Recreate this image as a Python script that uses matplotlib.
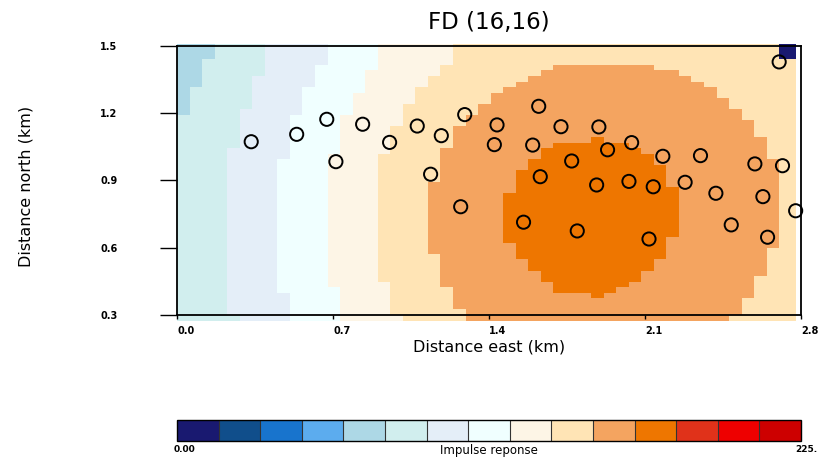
import numpy as np
import matplotlib
matplotlib.use("Agg")
from matplotlib import pyplot as plt
from matplotlib.colors import ListedColormap, BoundaryNorm

# colour table, 15 bands of 15 units (0 .. 225)
band_colors = ["#191970", "#104E8B", "#1874CD", "#5CACEE", "#ADD8E6",
               "#D1EEEE", "#E4EEF8", "#F0FFFF", "#FDF5E6", "#FFE4B5",
               "#F4A460", "#EE7600", "#E0321A", "#EE0000", "#CD0000"]
levels = np.arange(0, 226, 15)
cbar_labels = ["0.00", "225."]

# raster: 50 rows (top->bottom) x 50 columns
nrow, ncol = 50, 50
# (first row, last row, last col) of band 4
band4_end = [(0, 2, 2), (3, 7, 1), (8, 12, 0)]
# (first row, last row, first col) where band k begins
band6_start = [(0, 5, 7), (6, 11, 6), (12, 18, 5), (19, 48, 4), (49, 49, 5)]
band7_start = [(0, 3, 12), (4, 7, 11), (8, 12, 10), (13, 20, 9), (21, 44, 8), (45, 49, 9)]
band8_start = [(0, 4, 16), (5, 8, 15), (9, 12, 14), (13, 19, 13), (20, 43, 12), (44, 49, 13)]
band9_start = [(0, 3, 22), (4, 5, 21), (6, 7, 20), (8, 10, 19), (11, 14, 18),
               (15, 19, 17), (20, 42, 16), (43, 48, 17), (49, 49, 18)]
# (first row, last row, first col, last col)
band10_span = [(4, 4, 30, 37), (5, 5, 29, 39), (6, 6, 28, 40), (7, 7, 27, 41),
               (8, 8, 26, 42), (9, 9, 25, 42), (10, 10, 25, 43), (11, 11, 24, 43),
               (12, 12, 24, 44), (13, 13, 23, 44), (14, 14, 23, 45), (15, 16, 22, 45),
               (17, 18, 22, 46), (19, 20, 21, 46), (21, 24, 21, 47), (25, 36, 20, 47),
               (37, 37, 20, 46), (38, 41, 21, 46), (42, 43, 21, 45), (44, 45, 22, 45),
               (46, 47, 22, 44), (48, 48, 23, 44), (49, 49, 23, 43)]
band11_span = [(17, 17, 33, 33), (18, 18, 30, 35), (19, 19, 29, 36), (20, 20, 29, 37),
               (21, 21, 28, 37), (22, 22, 28, 38), (23, 25, 27, 38), (26, 26, 27, 39),
               (27, 34, 26, 39), (35, 35, 26, 38), (36, 38, 27, 38), (39, 40, 28, 37),
               (41, 42, 29, 36), (43, 43, 30, 35), (44, 44, 30, 34), (45, 45, 33, 33)]
band0_span = [(0, 2, 48, 49)]

# stations (km)
sta_x = [0.333, 0.537, 0.672, 0.713, 0.833, 0.954, 1.078, 1.186, 1.138, 1.291,
         1.273, 1.436, 1.424, 1.623, 1.723, 1.596, 1.771, 1.630, 1.555, 1.796,
         1.893, 1.883, 2.040, 1.932, 2.180, 2.349, 2.028, 2.137, 2.280, 2.418,
         2.593, 2.717, 2.629, 2.776, 2.487, 2.650, 2.118, 2.702]
sta_y = [1.073, 1.106, 1.173, 0.984, 1.151, 1.070, 1.143, 1.100, 0.928, 1.194,
         0.783, 1.148, 1.060, 1.231, 1.140, 1.058, 0.987, 0.917, 0.714, 0.675,
         1.139, 0.880, 1.069, 1.037, 1.008, 1.011, 0.896, 0.872, 0.892, 0.843,
         0.974, 0.966, 0.828, 0.765, 0.702, 0.647, 0.639, 1.429]

band = np.full((nrow, ncol), 5)
for r0, r1, c in band4_end:
    band[r0:r1 + 1, :c + 1] = 4
for k, table in [(6, band6_start), (7, band7_start), (8, band8_start), (9, band9_start)]:
    for r0, r1, c in table:
        band[r0:r1 + 1, c:] = k
for k, table in [(10, band10_span), (11, band11_span), (0, band0_span)]:
    for r0, r1, c0, c1 in table:
        band[r0:r1 + 1, c0:c1 + 1] = k
value = band * 15 + 7.5

# cell edges (km)
x_edges = np.append(np.arange(ncol) * 0.0563, 2.777)
y_edges = 1.5 - (42.6 + 5.56 * np.arange(nrow + 1) - 46) / 224.2
y_edges[0] = 1.509

cmap = ListedColormap(band_colors)
norm = BoundaryNorm(levels, cmap.N)

fig = plt.figure(figsize=(8.19, 4.57), dpi=100)
ax = fig.add_axes([177 / 819, 1 - 315 / 457, 624 / 819, 269 / 457])
mesh = ax.pcolormesh(x_edges, y_edges, value, cmap=cmap, norm=norm, zorder=1)
mesh.set_clip_on(False)
ax.scatter(sta_x, sta_y, s=90, facecolors="none", edgecolors="black",
           linewidths=1.4, zorder=3, clip_on=False)
ax.set_xlim(0, 2.8)
ax.set_ylim(0.3, 1.5)
for sp in ax.spines.values():
    sp.set_linewidth(1.3)
    sp.set_zorder(4)

ax.set_xticks([0, 0.7, 1.4, 2.1, 2.8])
ax.set_xticklabels(["0.0", "0.7", "1.4", "2.1", "2.8"], ha="left",
                   fontsize=7, fontweight="bold")
ax.tick_params(axis="x", length=3, width=1, pad=5)
ax.set_yticks([0.3, 0.6, 0.9, 1.2, 1.5])
ax.set_yticklabels(["0.3", "0.6", "0.9", "1.2", "1.5"], fontsize=7, fontweight="bold")
ax.tick_params(axis="y", length=12, width=1, pad=31)

fig.text(489 / 819, 1 - 22 / 457, "FD (16,16)", ha="center", va="center", fontsize=16.5)
fig.text(489 / 819, 1 - 347 / 457, "Distance east (km)", ha="center", va="center", fontsize=11.5)
fig.text(26 / 819, 1 - 186 / 457, "Distance north (km)", ha="center", va="center",
         rotation=90, fontsize=11.5)

cax = fig.add_axes([177 / 819, 1 - 441 / 457, 624 / 819, 21 / 457])
cb = fig.colorbar(mesh, cax=cax, orientation="horizontal", drawedges=True)
cb.minorticks_off()
cb.set_ticks([])
cb.dividers.set_color("#333333")
cb.dividers.set_linewidth(0.8)
cb.outline.set_linewidth(1.0)
cax.text(-0.006, -0.2, cbar_labels[0], transform=cax.transAxes,
         ha="left", va="top", fontsize=6.5, fontweight="bold")
fig.text(817 / 819, 1 - 445 / 457, cbar_labels[1], ha="right", va="top",
         fontsize=6.5, fontweight="bold")
cax.text(0.5, -0.14, "Impulse reponse", transform=cax.transAxes,
         ha="center", va="top", fontsize=8.5)

plt.savefig("out.png")
